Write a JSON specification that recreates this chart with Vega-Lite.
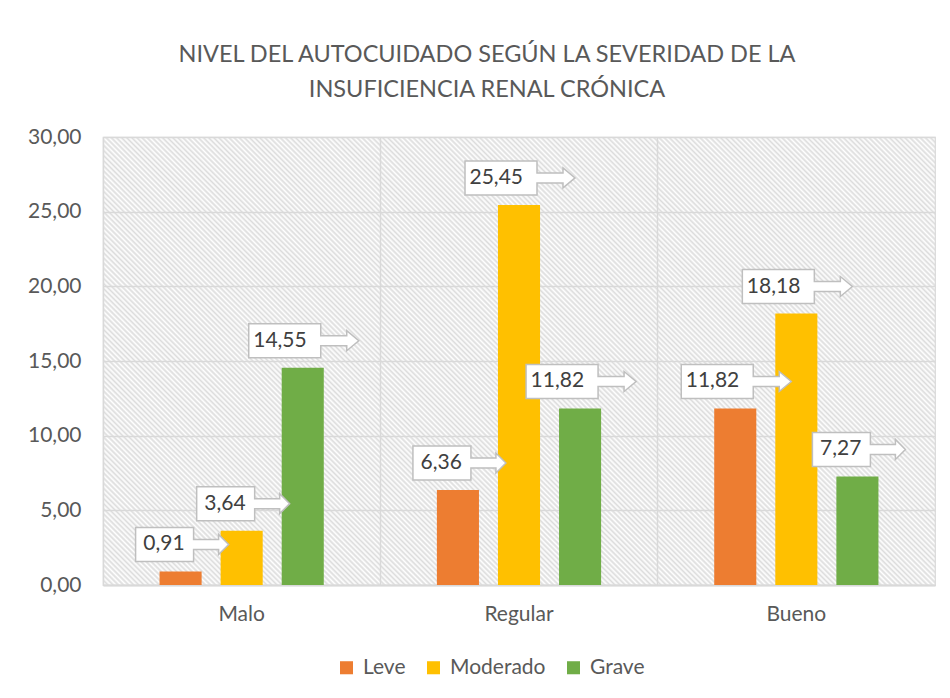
{
  "$schema": "https://vega.github.io/schema/vega-lite/v6.json",
  "autosize": {"type": "none"},
  "width": 832,
  "height": 448,
  "padding": {"left": 103, "top": 137, "right": 15, "bottom": 113},
  "background": "white",
  "config": {
    "locale": {"number": {"decimal": ",", "thousands": ".", "grouping": [3], "currency": ["", " €"]}},
    "font": "Lato",
    "view": {
      "stroke": "#d9d9d9",
      "strokeWidth": 1.2,
      "fill": {
        "gradient": "linear",
        "x1": 0, "y1": 1, "x2": 1.1926, "y2": 0.3578,
        "stops": [
{"offset":0,"color":"#dcdcdc"},{"offset":0.002,"color":"#fff"},{"offset":0.004,"color":"#dcdcdc"},{"offset":0.006,"color":"#fff"},{"offset":0.008,"color":"#dcdcdc"},{"offset":0.01,"color":"#fff"},{"offset":0.012,"color":"#dcdcdc"},{"offset":0.014,"color":"#fff"},{"offset":0.016,"color":"#dcdcdc"},{"offset":0.018,"color":"#fff"},
{"offset":0.02,"color":"#dcdcdc"},{"offset":0.022,"color":"#fff"},{"offset":0.024,"color":"#dcdcdc"},{"offset":0.026,"color":"#fff"},{"offset":0.028,"color":"#dcdcdc"},{"offset":0.03,"color":"#fff"},{"offset":0.032,"color":"#dcdcdc"},{"offset":0.034,"color":"#fff"},{"offset":0.036,"color":"#dcdcdc"},{"offset":0.038,"color":"#fff"},
{"offset":0.04,"color":"#dcdcdc"},{"offset":0.042,"color":"#fff"},{"offset":0.044,"color":"#dcdcdc"},{"offset":0.046,"color":"#fff"},{"offset":0.048,"color":"#dcdcdc"},{"offset":0.05,"color":"#fff"},{"offset":0.052,"color":"#dcdcdc"},{"offset":0.054,"color":"#fff"},{"offset":0.056,"color":"#dcdcdc"},{"offset":0.058,"color":"#fff"},
{"offset":0.06,"color":"#dcdcdc"},{"offset":0.062,"color":"#fff"},{"offset":0.064,"color":"#dcdcdc"},{"offset":0.066,"color":"#fff"},{"offset":0.068,"color":"#dcdcdc"},{"offset":0.07,"color":"#fff"},{"offset":0.072,"color":"#dcdcdc"},{"offset":0.074,"color":"#fff"},{"offset":0.076,"color":"#dcdcdc"},{"offset":0.078,"color":"#fff"},
{"offset":0.08,"color":"#dcdcdc"},{"offset":0.082,"color":"#fff"},{"offset":0.084,"color":"#dcdcdc"},{"offset":0.086,"color":"#fff"},{"offset":0.088,"color":"#dcdcdc"},{"offset":0.09,"color":"#fff"},{"offset":0.092,"color":"#dcdcdc"},{"offset":0.094,"color":"#fff"},{"offset":0.096,"color":"#dcdcdc"},{"offset":0.098,"color":"#fff"},
{"offset":0.1,"color":"#dcdcdc"},{"offset":0.102,"color":"#fff"},{"offset":0.104,"color":"#dcdcdc"},{"offset":0.106,"color":"#fff"},{"offset":0.108,"color":"#dcdcdc"},{"offset":0.11,"color":"#fff"},{"offset":0.112,"color":"#dcdcdc"},{"offset":0.114,"color":"#fff"},{"offset":0.116,"color":"#dcdcdc"},{"offset":0.118,"color":"#fff"},
{"offset":0.12,"color":"#dcdcdc"},{"offset":0.122,"color":"#fff"},{"offset":0.124,"color":"#dcdcdc"},{"offset":0.126,"color":"#fff"},{"offset":0.128,"color":"#dcdcdc"},{"offset":0.13,"color":"#fff"},{"offset":0.132,"color":"#dcdcdc"},{"offset":0.134,"color":"#fff"},{"offset":0.136,"color":"#dcdcdc"},{"offset":0.138,"color":"#fff"},
{"offset":0.14,"color":"#dcdcdc"},{"offset":0.142,"color":"#fff"},{"offset":0.144,"color":"#dcdcdc"},{"offset":0.146,"color":"#fff"},{"offset":0.148,"color":"#dcdcdc"},{"offset":0.15,"color":"#fff"},{"offset":0.152,"color":"#dcdcdc"},{"offset":0.154,"color":"#fff"},{"offset":0.156,"color":"#dcdcdc"},{"offset":0.158,"color":"#fff"},
{"offset":0.16,"color":"#dcdcdc"},{"offset":0.162,"color":"#fff"},{"offset":0.164,"color":"#dcdcdc"},{"offset":0.166,"color":"#fff"},{"offset":0.168,"color":"#dcdcdc"},{"offset":0.17,"color":"#fff"},{"offset":0.172,"color":"#dcdcdc"},{"offset":0.174,"color":"#fff"},{"offset":0.176,"color":"#dcdcdc"},{"offset":0.178,"color":"#fff"},
{"offset":0.18,"color":"#dcdcdc"},{"offset":0.182,"color":"#fff"},{"offset":0.184,"color":"#dcdcdc"},{"offset":0.186,"color":"#fff"},{"offset":0.188,"color":"#dcdcdc"},{"offset":0.19,"color":"#fff"},{"offset":0.192,"color":"#dcdcdc"},{"offset":0.194,"color":"#fff"},{"offset":0.196,"color":"#dcdcdc"},{"offset":0.198,"color":"#fff"},
{"offset":0.2,"color":"#dcdcdc"},{"offset":0.202,"color":"#fff"},{"offset":0.204,"color":"#dcdcdc"},{"offset":0.206,"color":"#fff"},{"offset":0.208,"color":"#dcdcdc"},{"offset":0.21,"color":"#fff"},{"offset":0.212,"color":"#dcdcdc"},{"offset":0.214,"color":"#fff"},{"offset":0.216,"color":"#dcdcdc"},{"offset":0.218,"color":"#fff"},
{"offset":0.22,"color":"#dcdcdc"},{"offset":0.222,"color":"#fff"},{"offset":0.224,"color":"#dcdcdc"},{"offset":0.226,"color":"#fff"},{"offset":0.228,"color":"#dcdcdc"},{"offset":0.23,"color":"#fff"},{"offset":0.232,"color":"#dcdcdc"},{"offset":0.234,"color":"#fff"},{"offset":0.236,"color":"#dcdcdc"},{"offset":0.238,"color":"#fff"},
{"offset":0.24,"color":"#dcdcdc"},{"offset":0.242,"color":"#fff"},{"offset":0.244,"color":"#dcdcdc"},{"offset":0.246,"color":"#fff"},{"offset":0.248,"color":"#dcdcdc"},{"offset":0.25,"color":"#fff"},{"offset":0.252,"color":"#dcdcdc"},{"offset":0.254,"color":"#fff"},{"offset":0.256,"color":"#dcdcdc"},{"offset":0.258,"color":"#fff"},
{"offset":0.26,"color":"#dcdcdc"},{"offset":0.262,"color":"#fff"},{"offset":0.264,"color":"#dcdcdc"},{"offset":0.266,"color":"#fff"},{"offset":0.268,"color":"#dcdcdc"},{"offset":0.27,"color":"#fff"},{"offset":0.272,"color":"#dcdcdc"},{"offset":0.274,"color":"#fff"},{"offset":0.276,"color":"#dcdcdc"},{"offset":0.278,"color":"#fff"},
{"offset":0.28,"color":"#dcdcdc"},{"offset":0.282,"color":"#fff"},{"offset":0.284,"color":"#dcdcdc"},{"offset":0.286,"color":"#fff"},{"offset":0.288,"color":"#dcdcdc"},{"offset":0.29,"color":"#fff"},{"offset":0.292,"color":"#dcdcdc"},{"offset":0.294,"color":"#fff"},{"offset":0.296,"color":"#dcdcdc"},{"offset":0.298,"color":"#fff"},
{"offset":0.3,"color":"#dcdcdc"},{"offset":0.302,"color":"#fff"},{"offset":0.304,"color":"#dcdcdc"},{"offset":0.306,"color":"#fff"},{"offset":0.308,"color":"#dcdcdc"},{"offset":0.31,"color":"#fff"},{"offset":0.312,"color":"#dcdcdc"},{"offset":0.314,"color":"#fff"},{"offset":0.316,"color":"#dcdcdc"},{"offset":0.318,"color":"#fff"},
{"offset":0.32,"color":"#dcdcdc"},{"offset":0.322,"color":"#fff"},{"offset":0.324,"color":"#dcdcdc"},{"offset":0.326,"color":"#fff"},{"offset":0.328,"color":"#dcdcdc"},{"offset":0.33,"color":"#fff"},{"offset":0.332,"color":"#dcdcdc"},{"offset":0.334,"color":"#fff"},{"offset":0.336,"color":"#dcdcdc"},{"offset":0.338,"color":"#fff"},
{"offset":0.34,"color":"#dcdcdc"},{"offset":0.342,"color":"#fff"},{"offset":0.344,"color":"#dcdcdc"},{"offset":0.346,"color":"#fff"},{"offset":0.348,"color":"#dcdcdc"},{"offset":0.35,"color":"#fff"},{"offset":0.352,"color":"#dcdcdc"},{"offset":0.354,"color":"#fff"},{"offset":0.356,"color":"#dcdcdc"},{"offset":0.358,"color":"#fff"},
{"offset":0.36,"color":"#dcdcdc"},{"offset":0.362,"color":"#fff"},{"offset":0.364,"color":"#dcdcdc"},{"offset":0.366,"color":"#fff"},{"offset":0.368,"color":"#dcdcdc"},{"offset":0.37,"color":"#fff"},{"offset":0.372,"color":"#dcdcdc"},{"offset":0.374,"color":"#fff"},{"offset":0.376,"color":"#dcdcdc"},{"offset":0.378,"color":"#fff"},
{"offset":0.38,"color":"#dcdcdc"},{"offset":0.382,"color":"#fff"},{"offset":0.384,"color":"#dcdcdc"},{"offset":0.386,"color":"#fff"},{"offset":0.388,"color":"#dcdcdc"},{"offset":0.39,"color":"#fff"},{"offset":0.392,"color":"#dcdcdc"},{"offset":0.394,"color":"#fff"},{"offset":0.396,"color":"#dcdcdc"},{"offset":0.398,"color":"#fff"},
{"offset":0.4,"color":"#dcdcdc"},{"offset":0.402,"color":"#fff"},{"offset":0.404,"color":"#dcdcdc"},{"offset":0.406,"color":"#fff"},{"offset":0.408,"color":"#dcdcdc"},{"offset":0.41,"color":"#fff"},{"offset":0.412,"color":"#dcdcdc"},{"offset":0.414,"color":"#fff"},{"offset":0.416,"color":"#dcdcdc"},{"offset":0.418,"color":"#fff"},
{"offset":0.42,"color":"#dcdcdc"},{"offset":0.422,"color":"#fff"},{"offset":0.424,"color":"#dcdcdc"},{"offset":0.426,"color":"#fff"},{"offset":0.428,"color":"#dcdcdc"},{"offset":0.43,"color":"#fff"},{"offset":0.432,"color":"#dcdcdc"},{"offset":0.434,"color":"#fff"},{"offset":0.436,"color":"#dcdcdc"},{"offset":0.438,"color":"#fff"},
{"offset":0.44,"color":"#dcdcdc"},{"offset":0.442,"color":"#fff"},{"offset":0.444,"color":"#dcdcdc"},{"offset":0.446,"color":"#fff"},{"offset":0.448,"color":"#dcdcdc"},{"offset":0.45,"color":"#fff"},{"offset":0.452,"color":"#dcdcdc"},{"offset":0.454,"color":"#fff"},{"offset":0.456,"color":"#dcdcdc"},{"offset":0.458,"color":"#fff"},
{"offset":0.46,"color":"#dcdcdc"},{"offset":0.462,"color":"#fff"},{"offset":0.464,"color":"#dcdcdc"},{"offset":0.466,"color":"#fff"},{"offset":0.468,"color":"#dcdcdc"},{"offset":0.47,"color":"#fff"},{"offset":0.472,"color":"#dcdcdc"},{"offset":0.474,"color":"#fff"},{"offset":0.476,"color":"#dcdcdc"},{"offset":0.478,"color":"#fff"},
{"offset":0.48,"color":"#dcdcdc"},{"offset":0.482,"color":"#fff"},{"offset":0.484,"color":"#dcdcdc"},{"offset":0.486,"color":"#fff"},{"offset":0.488,"color":"#dcdcdc"},{"offset":0.49,"color":"#fff"},{"offset":0.492,"color":"#dcdcdc"},{"offset":0.494,"color":"#fff"},{"offset":0.496,"color":"#dcdcdc"},{"offset":0.498,"color":"#fff"},
{"offset":0.5,"color":"#dcdcdc"},{"offset":0.502,"color":"#fff"},{"offset":0.504,"color":"#dcdcdc"},{"offset":0.506,"color":"#fff"},{"offset":0.508,"color":"#dcdcdc"},{"offset":0.51,"color":"#fff"},{"offset":0.512,"color":"#dcdcdc"},{"offset":0.514,"color":"#fff"},{"offset":0.516,"color":"#dcdcdc"},{"offset":0.518,"color":"#fff"},
{"offset":0.52,"color":"#dcdcdc"},{"offset":0.522,"color":"#fff"},{"offset":0.524,"color":"#dcdcdc"},{"offset":0.526,"color":"#fff"},{"offset":0.528,"color":"#dcdcdc"},{"offset":0.53,"color":"#fff"},{"offset":0.532,"color":"#dcdcdc"},{"offset":0.534,"color":"#fff"},{"offset":0.536,"color":"#dcdcdc"},{"offset":0.538,"color":"#fff"},
{"offset":0.54,"color":"#dcdcdc"},{"offset":0.542,"color":"#fff"},{"offset":0.544,"color":"#dcdcdc"},{"offset":0.546,"color":"#fff"},{"offset":0.548,"color":"#dcdcdc"},{"offset":0.55,"color":"#fff"},{"offset":0.552,"color":"#dcdcdc"},{"offset":0.554,"color":"#fff"},{"offset":0.556,"color":"#dcdcdc"},{"offset":0.558,"color":"#fff"},
{"offset":0.56,"color":"#dcdcdc"},{"offset":0.562,"color":"#fff"},{"offset":0.564,"color":"#dcdcdc"},{"offset":0.566,"color":"#fff"},{"offset":0.568,"color":"#dcdcdc"},{"offset":0.57,"color":"#fff"},{"offset":0.572,"color":"#dcdcdc"},{"offset":0.574,"color":"#fff"},{"offset":0.576,"color":"#dcdcdc"},{"offset":0.578,"color":"#fff"},
{"offset":0.58,"color":"#dcdcdc"},{"offset":0.582,"color":"#fff"},{"offset":0.584,"color":"#dcdcdc"},{"offset":0.586,"color":"#fff"},{"offset":0.588,"color":"#dcdcdc"},{"offset":0.59,"color":"#fff"},{"offset":0.592,"color":"#dcdcdc"},{"offset":0.594,"color":"#fff"},{"offset":0.596,"color":"#dcdcdc"},{"offset":0.598,"color":"#fff"},
{"offset":0.6,"color":"#dcdcdc"},{"offset":0.602,"color":"#fff"},{"offset":0.604,"color":"#dcdcdc"},{"offset":0.606,"color":"#fff"},{"offset":0.608,"color":"#dcdcdc"},{"offset":0.61,"color":"#fff"},{"offset":0.612,"color":"#dcdcdc"},{"offset":0.614,"color":"#fff"},{"offset":0.616,"color":"#dcdcdc"},{"offset":0.618,"color":"#fff"},
{"offset":0.62,"color":"#dcdcdc"},{"offset":0.622,"color":"#fff"},{"offset":0.624,"color":"#dcdcdc"},{"offset":0.626,"color":"#fff"},{"offset":0.628,"color":"#dcdcdc"},{"offset":0.63,"color":"#fff"},{"offset":0.632,"color":"#dcdcdc"},{"offset":0.634,"color":"#fff"},{"offset":0.636,"color":"#dcdcdc"},{"offset":0.638,"color":"#fff"},
{"offset":0.64,"color":"#dcdcdc"},{"offset":0.642,"color":"#fff"},{"offset":0.644,"color":"#dcdcdc"},{"offset":0.646,"color":"#fff"},{"offset":0.648,"color":"#dcdcdc"},{"offset":0.65,"color":"#fff"},{"offset":0.652,"color":"#dcdcdc"},{"offset":0.654,"color":"#fff"},{"offset":0.656,"color":"#dcdcdc"},{"offset":0.658,"color":"#fff"},
{"offset":0.66,"color":"#dcdcdc"},{"offset":0.662,"color":"#fff"},{"offset":0.664,"color":"#dcdcdc"},{"offset":0.666,"color":"#fff"},{"offset":0.668,"color":"#dcdcdc"},{"offset":0.67,"color":"#fff"},{"offset":0.672,"color":"#dcdcdc"},{"offset":0.674,"color":"#fff"},{"offset":0.676,"color":"#dcdcdc"},{"offset":0.678,"color":"#fff"},
{"offset":0.68,"color":"#dcdcdc"},{"offset":0.682,"color":"#fff"},{"offset":0.684,"color":"#dcdcdc"},{"offset":0.686,"color":"#fff"},{"offset":0.688,"color":"#dcdcdc"},{"offset":0.69,"color":"#fff"},{"offset":0.692,"color":"#dcdcdc"},{"offset":0.694,"color":"#fff"},{"offset":0.696,"color":"#dcdcdc"},{"offset":0.698,"color":"#fff"},
{"offset":0.7,"color":"#dcdcdc"},{"offset":0.702,"color":"#fff"},{"offset":0.704,"color":"#dcdcdc"},{"offset":0.706,"color":"#fff"},{"offset":0.708,"color":"#dcdcdc"},{"offset":0.71,"color":"#fff"},{"offset":0.712,"color":"#dcdcdc"},{"offset":0.714,"color":"#fff"},{"offset":0.716,"color":"#dcdcdc"},{"offset":0.718,"color":"#fff"},
{"offset":0.72,"color":"#dcdcdc"},{"offset":0.722,"color":"#fff"},{"offset":0.724,"color":"#dcdcdc"},{"offset":0.726,"color":"#fff"},{"offset":0.728,"color":"#dcdcdc"},{"offset":0.73,"color":"#fff"},{"offset":0.732,"color":"#dcdcdc"},{"offset":0.734,"color":"#fff"},{"offset":0.736,"color":"#dcdcdc"},{"offset":0.738,"color":"#fff"},
{"offset":0.74,"color":"#dcdcdc"},{"offset":0.742,"color":"#fff"},{"offset":0.744,"color":"#dcdcdc"},{"offset":0.746,"color":"#fff"},{"offset":0.748,"color":"#dcdcdc"},{"offset":0.75,"color":"#fff"},{"offset":0.752,"color":"#dcdcdc"},{"offset":0.754,"color":"#fff"},{"offset":0.756,"color":"#dcdcdc"},{"offset":0.758,"color":"#fff"},
{"offset":0.76,"color":"#dcdcdc"},{"offset":0.762,"color":"#fff"},{"offset":0.764,"color":"#dcdcdc"},{"offset":0.766,"color":"#fff"},{"offset":0.768,"color":"#dcdcdc"},{"offset":0.77,"color":"#fff"},{"offset":0.772,"color":"#dcdcdc"},{"offset":0.774,"color":"#fff"},{"offset":0.776,"color":"#dcdcdc"},{"offset":0.778,"color":"#fff"},
{"offset":0.78,"color":"#dcdcdc"},{"offset":0.782,"color":"#fff"},{"offset":0.784,"color":"#dcdcdc"},{"offset":0.786,"color":"#fff"},{"offset":0.788,"color":"#dcdcdc"},{"offset":0.79,"color":"#fff"},{"offset":0.792,"color":"#dcdcdc"},{"offset":0.794,"color":"#fff"},{"offset":0.796,"color":"#dcdcdc"},{"offset":0.798,"color":"#fff"},
{"offset":0.8,"color":"#dcdcdc"},{"offset":0.802,"color":"#fff"},{"offset":0.804,"color":"#dcdcdc"},{"offset":0.806,"color":"#fff"},{"offset":0.808,"color":"#dcdcdc"},{"offset":0.81,"color":"#fff"},{"offset":0.812,"color":"#dcdcdc"},{"offset":0.814,"color":"#fff"},{"offset":0.816,"color":"#dcdcdc"},{"offset":0.818,"color":"#fff"},
{"offset":0.82,"color":"#dcdcdc"},{"offset":0.822,"color":"#fff"},{"offset":0.824,"color":"#dcdcdc"},{"offset":0.826,"color":"#fff"},{"offset":0.828,"color":"#dcdcdc"},{"offset":0.83,"color":"#fff"},{"offset":0.832,"color":"#dcdcdc"},{"offset":0.834,"color":"#fff"},{"offset":0.836,"color":"#dcdcdc"},{"offset":0.838,"color":"#fff"},
{"offset":0.84,"color":"#dcdcdc"},{"offset":0.842,"color":"#fff"},{"offset":0.844,"color":"#dcdcdc"},{"offset":0.846,"color":"#fff"},{"offset":0.848,"color":"#dcdcdc"},{"offset":0.85,"color":"#fff"},{"offset":0.852,"color":"#dcdcdc"},{"offset":0.854,"color":"#fff"},{"offset":0.856,"color":"#dcdcdc"},{"offset":0.858,"color":"#fff"},
{"offset":0.86,"color":"#dcdcdc"},{"offset":0.862,"color":"#fff"},{"offset":0.864,"color":"#dcdcdc"},{"offset":0.866,"color":"#fff"},{"offset":0.868,"color":"#dcdcdc"},{"offset":0.87,"color":"#fff"},{"offset":0.872,"color":"#dcdcdc"},{"offset":0.874,"color":"#fff"},{"offset":0.876,"color":"#dcdcdc"},{"offset":0.878,"color":"#fff"},
{"offset":0.88,"color":"#dcdcdc"},{"offset":0.882,"color":"#fff"},{"offset":0.884,"color":"#dcdcdc"},{"offset":0.886,"color":"#fff"},{"offset":0.888,"color":"#dcdcdc"},{"offset":0.89,"color":"#fff"},{"offset":0.892,"color":"#dcdcdc"},{"offset":0.894,"color":"#fff"},{"offset":0.896,"color":"#dcdcdc"},{"offset":0.898,"color":"#fff"},
{"offset":0.9,"color":"#dcdcdc"},{"offset":0.902,"color":"#fff"},{"offset":0.904,"color":"#dcdcdc"},{"offset":0.906,"color":"#fff"},{"offset":0.908,"color":"#dcdcdc"},{"offset":0.91,"color":"#fff"},{"offset":0.912,"color":"#dcdcdc"},{"offset":0.914,"color":"#fff"},{"offset":0.916,"color":"#dcdcdc"},{"offset":0.918,"color":"#fff"},
{"offset":0.92,"color":"#dcdcdc"},{"offset":0.922,"color":"#fff"},{"offset":0.924,"color":"#dcdcdc"},{"offset":0.926,"color":"#fff"},{"offset":0.928,"color":"#dcdcdc"},{"offset":0.93,"color":"#fff"},{"offset":0.932,"color":"#dcdcdc"},{"offset":0.934,"color":"#fff"},{"offset":0.936,"color":"#dcdcdc"},{"offset":0.938,"color":"#fff"},
{"offset":0.94,"color":"#dcdcdc"},{"offset":0.942,"color":"#fff"},{"offset":0.944,"color":"#dcdcdc"},{"offset":0.946,"color":"#fff"},{"offset":0.948,"color":"#dcdcdc"},{"offset":0.95,"color":"#fff"},{"offset":0.952,"color":"#dcdcdc"},{"offset":0.954,"color":"#fff"},{"offset":0.956,"color":"#dcdcdc"},{"offset":0.958,"color":"#fff"},
{"offset":0.96,"color":"#dcdcdc"},{"offset":0.962,"color":"#fff"},{"offset":0.964,"color":"#dcdcdc"},{"offset":0.966,"color":"#fff"},{"offset":0.968,"color":"#dcdcdc"},{"offset":0.97,"color":"#fff"},{"offset":0.972,"color":"#dcdcdc"},{"offset":0.974,"color":"#fff"},{"offset":0.976,"color":"#dcdcdc"},{"offset":0.978,"color":"#fff"},
{"offset":0.98,"color":"#dcdcdc"},{"offset":0.982,"color":"#fff"},{"offset":0.984,"color":"#dcdcdc"},{"offset":0.986,"color":"#fff"},{"offset":0.988,"color":"#dcdcdc"},{"offset":0.99,"color":"#fff"},{"offset":0.992,"color":"#dcdcdc"},{"offset":0.994,"color":"#fff"},{"offset":0.996,"color":"#dcdcdc"},{"offset":0.998,"color":"#fff"},
{"offset":1,"color":"#dcdcdc"}
        ]
      }
    }
  },
  "title": {
    "text": ["NIVEL DEL AUTOCUIDADO SEGÚN LA SEVERIDAD DE LA", "INSUFICIENCIA RENAL CRÓNICA"],
    "fontSize": 23.5,
    "fontWeight": "normal",
    "color": "#595959",
    "font": "Lato",
    "lineHeight": 35,
    "anchor": "middle",
    "frame": "group",
    "dx": -32,
    "offset": 25
  },
  "data": {
    "values": [
      {"nivel": "Malo", "severidad": "Leve", "pct": 0.91},
      {"nivel": "Malo", "severidad": "Moderado", "pct": 3.64},
      {"nivel": "Malo", "severidad": "Grave", "pct": 14.55},
      {"nivel": "Regular", "severidad": "Leve", "pct": 6.36},
      {"nivel": "Regular", "severidad": "Moderado", "pct": 25.45},
      {"nivel": "Regular", "severidad": "Grave", "pct": 11.82},
      {"nivel": "Bueno", "severidad": "Leve", "pct": 11.82},
      {"nivel": "Bueno", "severidad": "Moderado", "pct": 18.18},
      {"nivel": "Bueno", "severidad": "Grave", "pct": 7.27}
    ]
  },
  "encoding": {
    "x": {
      "field": "nivel",
      "type": "nominal",
      "sort": ["Malo", "Regular", "Bueno"],
      "scale": {"paddingInner": 0, "paddingOuter": 0},
      "axis": {
        "title": null,
        "labelAngle": 0,
        "labelFontSize": 21,
        "labelColor": "#595959",
        "labelPadding": 18,
        "ticks": false,
        "grid": true,
        "bandPosition": 0,
        "gridColor": "#d9d9d9",
        "gridWidth": 1.5,
        "domainColor": "#d9d9d9",
        "domainWidth": 2
      }
    },
    "xOffset": {
      "field": "severidad",
      "type": "nominal",
      "sort": ["Leve", "Moderado", "Grave"],
      "scale": {"paddingInner": 0.311, "paddingOuter": 0.926}
    },
    "y": {
      "field": "pct",
      "type": "quantitative",
      "scale": {"domain": [0, 30], "nice": false},
      "axis": {
        "title": null,
        "values": [0, 5, 10, 15, 20, 25, 30],
        "format": ".2f",
        "labelFontSize": 21,
        "labelColor": "#595959",
        "labelPadding": 22,
        "ticks": false,
        "domain": false,
        "gridColor": "#d9d9d9",
        "gridWidth": 1.5
      }
    }
  },
  "layer": [
    {
      "mark": {"type": "bar"},
      "encoding": {
        "color": {
          "field": "severidad",
          "type": "nominal",
          "sort": ["Leve", "Moderado", "Grave"],
          "scale": {"domain": ["Leve", "Moderado", "Grave"], "range": ["#ED7D31", "#FFC000", "#70AD47"]},
          "legend": {
            "title": null,
            "orient": "none",
            "legendX": 233,
            "legendY": 520,
            "direction": "horizontal",
            "symbolType": "square",
            "symbolSize": 170,
            "symbolStrokeWidth": 0,
            "labelFontSize": 21,
            "labelColor": "#595959",
            "labelOffset": 6,
            "columnPadding": 17
          }
        }
      }
    },
    {
      "mark": {"type": "point", "size": 4, "filled": true, "fill": "white", "stroke": "#bfbfbf", "strokeWidth": 1.5, "opacity": 1},
      "encoding": {
        "shape": {
          "condition": {"test": "datum.pct >= 10", "value": "M-54,-44H18V-32H44V-37L56,-27L44,-17V-22H18V-10H-54Z"},
          "value": "M-45,-44H13V-32H38V-37L48,-27L38,-17V-22H13V-10H-45Z"
        }
      }
    },
    {
      "mark": {"type": "text", "align": "right", "baseline": "middle", "dx": 4, "dy": -27, "fontSize": 21, "color": "#404040"},
      "encoding": {
        "text": {"field": "pct", "type": "quantitative", "format": ".2f"}
      }
    }
  ]
}
